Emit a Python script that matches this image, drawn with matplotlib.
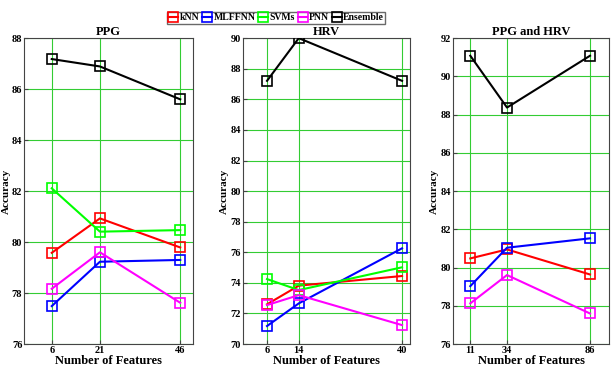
import numpy as np
import matplotlib
matplotlib.use('Agg')
import matplotlib.pyplot as plt
from matplotlib.lines import Line2D

plt.rcParams['font.family'] = ['Liberation Serif', 'DejaVu Serif']
plt.rcParams['font.weight'] = 'bold'

methods = ['kNN', 'MLFFNN', 'SVMs', 'PNN', 'Ensemble']
colors = {'kNN': '#ff0000', 'MLFFNN': '#0000ff', 'SVMs': '#00ff00',
          'PNN': '#ff00ff', 'Ensemble': '#000000'}

# PPG
ppg_x = [6, 21, 46]
ppg = {
    'kNN': [79.58, 80.93, 79.79],
    'MLFFNN': [77.49, 79.23, 79.30],
    'SVMs': [82.11, 80.41, 80.47],
    'PNN': [78.17, 79.60, 77.62],
    'Ensemble': [87.18, 86.89, 85.60],
}

# HRV
hrv_x = [6, 14, 40]
hrv = {
    'kNN': [72.60, 73.82, 74.45],
    'MLFFNN': [71.18, 72.66, 76.26],
    'SVMs': [74.25, 73.53, 75.02],
    'PNN': [72.55, 73.20, 71.24],
    'Ensemble': [87.21, 90.00, 87.21],
}

# PPG and HRV
both_x = [11, 34, 86]
both = {
    'kNN': [80.48, 80.95, 79.64],
    'MLFFNN': [79.03, 81.04, 81.53],
    'PNN': [78.13, 79.61, 77.60],
    'Ensemble': [91.08, 88.37, 91.08],
}

panels = [
    ('PPG', ppg_x, ppg, (-2.5, 50), (76, 88), [0.040, 0.080, 0.276, 0.818]),
    ('HRV', hrv_x, hrv, (0, 42), (70, 90), [0.398, 0.080, 0.273, 0.818]),
    ('PPG and HRV', both_x, both, (0, 98), (76, 92), [0.741, 0.080, 0.256, 0.818]),
]

fig = plt.figure(figsize=(6.11, 3.74), dpi=100)

for title, xs, data, xlim, ylim, pos in panels:
    ax = fig.add_axes(pos)
    for m in methods:
        if m not in data:
            continue
        ax.plot(xs, data[m], color=colors[m], lw=1.5, marker='s', ms=6.5,
                mfc='none', mew=1.2, zorder=3)
    ax.set_xlim(xlim)
    ax.set_ylim(ylim)
    ax.set_xticks(xs)
    ax.set_yticks(np.arange(ylim[0], ylim[1] + 1, 2))
    ax.grid(True, color='#33cc33', lw=0.8)
    ax.set_axisbelow(True)
    ax.tick_params(direction='in', labelsize=7.5, length=3, pad=1.5, color='#444444')
    for lbl in ax.get_xticklabels() + ax.get_yticklabels():
        lbl.set_fontweight('bold')
    for s in ax.spines.values():
        s.set_color('#444444')
    ax.set_title(title, fontsize=9, fontweight='bold', pad=2)
    ax.set_xlabel('Number of Features', fontsize=9, fontweight='bold', labelpad=0)
    ax.set_ylabel('Accuracy', fontsize=8, fontweight='bold', labelpad=1)

handles = [Line2D([], [], color=colors[m], lw=1.5, marker='s', ms=6.5,
                  mfc='none', mew=1.2) for m in methods]
fig.legend(handles, methods, loc='center', bbox_to_anchor=(0.452, 0.952),
           ncol=5, frameon=True, fancybox=False, edgecolor='#444444',
           handlelength=1.0, handletextpad=0.15, columnspacing=0.3,
           borderpad=0.15, prop={'weight': 'bold', 'size': 7})

fig.savefig('out.png', dpi=100)
